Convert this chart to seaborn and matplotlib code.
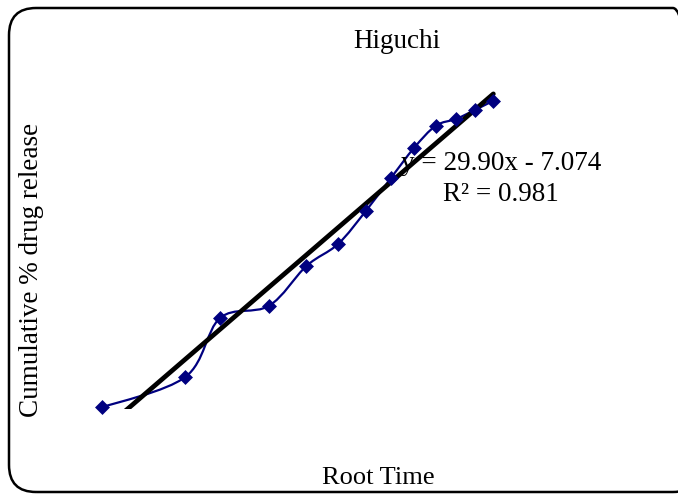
import numpy as np
import pandas as pd
import matplotlib
matplotlib.use("Agg")
import matplotlib.pyplot as plt
from matplotlib.path import Path
from matplotlib.patches import PathPatch, FancyBboxPatch
import seaborn as sns

# ---- data ----
time_h = [0, 0.5, 1, 2, 3, 4, 5, 6, 7, 8, 9, 10, 11]
root_time = list(np.sqrt(time_h))
cum_release = [0.5, 9.5, 26.9, 30.5, 42.3, 48.8, 58.6, 68.4, 77.3, 83.8, 85.8, 88.5, 91.2]
title_text = "Higuchi"
x_label = "Root Time"
y_label = "Cumulative % drug release"
eq_text = "y = 29.90x - 7.074\nR\u00b2 = 0.981"

df = pd.DataFrame({"x": root_time, "y": cum_release})

sns.set_theme(style="white")
plt.rcParams["font.family"] = ["Liberation Serif", "DejaVu Serif"]
plt.rcParams["text.color"] = "black"

W, H = 678, 495
fig = plt.figure(figsize=(W / 100, H / 100), dpi=100)

def fx(px):
    return px / W

def fy(py):
    return 1 - py / H

ax = fig.add_axes([fx(102), fy(409), fx(515) - fx(102), fy(71) - fy(409)])
ax.set_xlim(0, 3.5)
ax.set_ylim(0, 100)

navy = "#000080"

# smoothed (Excel-like) line through the data points
xs = np.array(df["x"], dtype=float)
ys = np.array(df["y"], dtype=float)
n = len(xs)
verts = [(xs[0], ys[0])]
codes = [Path.MOVETO]
for i in range(n - 1):
    p0 = np.array([xs[max(i - 1, 0)], ys[max(i - 1, 0)]])
    p1 = np.array([xs[i], ys[i]])
    p2 = np.array([xs[i + 1], ys[i + 1]])
    p3 = np.array([xs[min(i + 2, n - 1)], ys[min(i + 2, n - 1)]])
    c1 = p1 + (p2 - p0) / 6.0
    c2 = p2 - (p3 - p1) / 6.0
    verts += [tuple(c1), tuple(c2), tuple(p2)]
    codes += [Path.CURVE4, Path.CURVE4, Path.CURVE4]
ax.add_patch(PathPatch(Path(verts, codes), facecolor="none", edgecolor=navy,
                       lw=1.6, transform=ax.transData, zorder=2))

# trend line
sns.regplot(data=df, x="x", y="y", ax=ax, scatter=False, ci=None, truncate=True,
            line_kws=dict(color="black", lw=3.4, zorder=3))

# markers
sns.scatterplot(data=df, x="x", y="y", ax=ax, marker="D", s=58, color=navy,
                edgecolor=navy, linewidth=0, zorder=4, clip_on=False)

ax.set_xlabel("")
ax.set_ylabel("")
ax.set_xticks([])
ax.set_yticks([])
for s in ax.spines.values():
    s.set_visible(False)
ax.patch.set_alpha(0)

fig.text(fx(397), fy(42), title_text, ha="center", va="center", fontsize=19.5, color="black")
fig.text(fx(378), fy(478), x_label, ha="center", va="center", fontsize=19, color="black")
fig.text(fx(32), fy(270), y_label, ha="center", va="center", rotation=90, fontsize=19.5,
         color="black")
fig.text(fx(501), fy(179), eq_text, ha="center", va="center", fontsize=19.5,
         multialignment="center", linespacing=1.35, color="black")

# rounded border
box = FancyBboxPatch((fx(9), fy(492)), fx(700) - fx(9), fy(8) - fy(492),
                     boxstyle="round,pad=0,rounding_size=0.04",
                     transform=fig.transFigure, facecolor="none",
                     edgecolor="black", lw=1.8, mutation_aspect=W / H)
fig.patches.append(box)

fig.savefig("out.png", dpi=100)
